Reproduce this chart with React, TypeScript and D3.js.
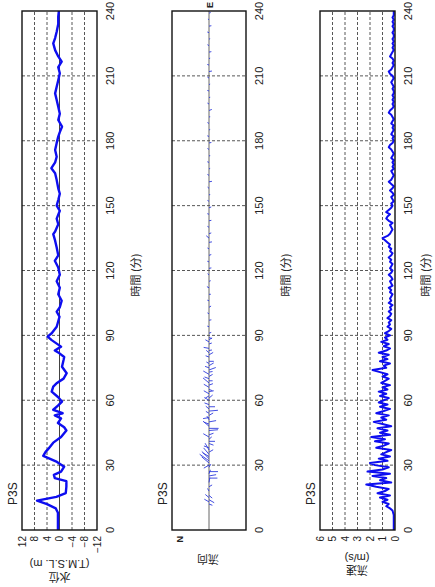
import { useEffect, useRef } from 'react';
import * as d3 from 'd3';

// time axis (minutes) shared by the three panels
const timeTicks = [0, 30, 60, 90, 120, 150, 180, 210, 240];
const levelTicks = [12, 8, 4, 0, -4, -8, -12];
const speedTicks = [6, 5, 4, 3, 2, 1, 0];

// 水位 (T.M.S.L. m)
const levelTime = [
  0, 8, 10, 12, 13.6, 15.3, 17, 20, 22.6, 24, 25.5, 27, 29.3, 31.5, 34.3, 36, 37.5, 40.4, 43, 46,
  47.5, 49.5, 51.6, 53, 54, 55.6, 57.5, 59.4, 61.5, 64, 66.3, 68, 70, 72.5, 75.5, 78.6, 80, 81.7, 83, 84.8,
  87.8, 89.4, 91, 94, 98.6, 101, 103, 106, 109, 112, 115, 118, 121.4, 124.5, 127, 130.6, 133.8, 136.8, 138, 141.4,
  144, 147.6, 150, 152.6, 155.5, 158, 161.8, 165, 167.3, 170, 172.6, 175.7, 179, 181.9, 184, 186.5, 189.6, 192.5, 195.7, 198.8,
  201.9, 205, 208, 211.2, 214, 216.6, 219, 221.9, 225, 227.5, 230.4, 234, 237.4, 240,
];
const levelValue = [
  0.5, 0.5, 1.2, 4, 7.2, 1, -2, -2.2, -2.2, 1.5, 1.8, -0.5, -1.5, 0.8, 5.2, 4.5, 3.6, 2, -0.5, -2.2,
  -1.5, 0.5, -0.5, 1.5, -1, 2, 0.5, -0.8, 0.5, 2.5, 2, 0.8, -1.3, -2.3, -0.8, -1.3, -1.5, 0, 1.5, -0.5,
  2.5, 3.8, 2.5, 0.9, 0, 0.9, -0.1, -0.7, 0.4, -0.1, 0.9, -0.1, 0.4, 1.5, 0.4, 0.9, 1.4, 2, 1.4, 0.4,
  0.9, -0.1, 0.9, 0.4, -0.1, 0.4, 0.9, 1.4, 2.6, 1.4, 0.9, 1.4, 0.9, 0.4, -0.1, -0.8, 0.4, -0.1, 0.4, 0.9,
  1.4, 0.9, 0.4, -0.1, 0.4, -0.7, 0.4, 1.4, 2, 1.4, 0.9, 0.4, 0.4, 0.2,
];

// 流速 (m/s), one reading per minute from 0 to 240
const speedValue = [
  0.1, 0.1, 0.1, 0.1, 0.1, 0.1, 0.1, 0.1, 0.15, 0.2,
  0.4, 0.7, 0.5, 1.0, 0.6, 1.2, 0.4, 1.4, 0.8, 0.5,
  1.5, 2.3, 0.3, 1.2, 0.7, 1.8, 0.4, 2.2, 1.0, 0.5,
  1.6, 2.0, 0.6, 1.3, 0.4, 1.1, 0.7, 0.3, 1.5, 0.9,
  0.5, 1.6, 0.8, 1.9, 0.4, 1.2, 0.6, 1.4, 0.3, 1.0,
  1.7, 0.7, 1.1, 0.5, 1.5, 0.9, 0.4, 1.2, 0.6, 1.3,
  0.9, 0.5, 1.2, 0.7, 1.3, 0.6, 1.0, 0.4, 1.1, 0.8,
  0.5, 1.0, 0.6, 1.2, 1.8, 0.7, 0.9, 0.4, 1.2, 0.6,
  1.0, 0.5, 1.3, 0.7, 0.4, 0.9, 0.5, 1.1, 0.6, 0.8,
  0.4, 0.8, 0.5, 0.3, 0.6, 0.4, 0.5, 0.3, 0.6, 0.4,
  0.3, 0.5, 0.3, 0.4, 0.2, 0.5, 0.3, 0.4, 0.3, 0.2,
  0.4, 0.3, 0.5, 0.2, 0.3, 0.4, 0.2, 0.3, 0.5, 0.3,
  0.2, 0.4, 0.3, 0.2, 0.4, 0.3, 0.5, 0.3, 0.2, 0.4,
  0.3, 0.5, 0.4, 0.6, 0.8, 1.0, 0.6, 0.4, 0.3, 0.2,
  0.3, 0.4, 0.2, 0.5, 0.7, 0.6, 0.4, 0.7, 0.5, 0.3,
  0.2, 0.3, 0.1, 0.2, 0.3, 0.1, 0.2, 0.4, 0.2, 0.1,
  0.3, 0.5, 0.3, 0.2, 0.1, 0.2, 0.3, 0.1, 0.2, 0.1,
  0.2, 0.1, 0.3, 0.2, 0.1, 0.2, 0.3, 0.5, 0.4, 0.2,
  0.1, 0.2, 0.1, 0.3, 0.2, 0.1, 0.2, 0.1, 0.3, 0.2,
  0.1, 0.2, 0.3, 0.5, 0.4, 0.2, 0.1, 0.2, 0.1, 0.2,
  0.1, 0.2, 0.1, 0.1, 0.2, 0.1, 0.2, 0.3, 0.2, 0.1,
  0.2, 0.4, 0.5, 0.3, 0.2, 0.1, 0.2, 0.1, 0.2, 0.4,
  0.3, 0.2, 0.1, 0.2, 0.1, 0.2, 0.1, 0.2, 0.1, 0.1,
  0.2, 0.1, 0.1, 0.2, 0.1, 0.2, 0.1, 0.2, 0.1, 0.1,
  0.1,
];

// 流向: stick vectors (speed m/s, direction degrees clockwise from north)
const stickTime = [
  12, 13, 14, 15, 16, 18, 20, 22, 24, 25, 26, 27, 29, 30, 31, 32, 33, 34, 35, 36,
  37, 38, 40, 41, 42, 43, 44, 46, 47, 48, 49, 50, 51, 52, 53, 54, 55, 56, 57, 58,
  60, 61, 62, 63, 64, 65, 66, 67, 68, 69, 70, 71, 72, 73, 74, 75, 76, 77, 78, 80,
  81, 82, 83, 84, 86, 87, 88, 89, 91, 94, 97, 100, 103, 106, 109, 112, 115, 118, 121, 124,
  127, 130, 133, 135, 137, 140, 143, 146, 149, 152, 155, 158, 161, 164, 167, 170, 173, 176, 179, 182,
  185, 188, 191, 194, 197, 200, 203, 206, 209, 212, 215, 218, 221, 224, 227, 230, 233, 236, 239,
];
const stickSpeed = [
  0.6, 0.9, 1.0, 0.8, 0.7, 0.5, 0.6, 0.8, 1.4, 1.2, 0.7, 1.5, 0.6, 1.0, 1.6, 1.9, 1.7, 1.2, 1.4, 0.8,
  1.3, 0.9, 0.8, 1.0, 0.6, 1.1, 0.8, 1.5, 1.6, 1.3, 0.9, 1.2, 0.7, 1.0, 0.8, 0.6, 1.5, 0.7, 1.0, 0.8,
  0.9, 0.8, 0.7, 1.0, 0.8, 0.6, 1.0, 0.7, 1.3, 0.6, 0.8, 0.7, 1.1, 0.6, 1.2, 0.7, 0.9, 0.5, 0.8, 0.6,
  0.8, 0.6, 0.5, 0.9, 0.5, 0.7, 0.6, 0.5, 0.4, 0.3, 0.4, 0.3, 0.4, 0.3, 0.3, 0.4, 0.3, 0.3, 0.4, 0.3,
  0.4, 0.3, 0.5, 0.6, 0.4, 0.3, 0.4, 0.3, 0.4, 0.3, 0.2, 0.3, 0.5, 0.3, 0.2, 0.3, 0.2, 0.3, 0.4, 0.3,
  0.2, 0.3, 0.2, 0.5, 0.3, 0.2, 0.3, 0.2, 0.3, 0.5, 0.3, 0.2, 0.4, 0.3, 0.2, 0.3, 0.4, 0.2, 0.3,
];
const stickDir = [
  200, 30, 210, 40, 220, 60, 150, 100, 180, 170, 110, 180, 120, 330, 40, 35, 45, 30, 50, 150,
  60, 20, 200, 180, 140, 30, 160, 175, 180, 40, 20, 170, 60, 350, 150, 30, 175, 40, 180, 20,
  30, 140, 330, 30, 170, 200, 30, 160, 40, 180, 20, 150, 30, 170, 160, 20, 150, 30, 180, 20,
  150, 40, 170, 10, 160, 30, 150, 200, 160, 20, 170, 30, 150, 20, 180, 30, 160, 40, 170, 20,
  160, 30, 170, 40, 160, 30, 170, 20, 160, 30, 170, 40, 170, 30, 160, 20, 170, 30, 170, 20,
  160, 30, 170, 160, 30, 170, 20, 160, 30, 170, 20, 160, 170, 30, 160, 20, 170, 30, 160,
];

const W = 587;
const H = 435;
const BLUE = '#0d0df0';
const LATIN = '"Liberation Sans", Arial, sans-serif';
const CJK = '"Noto Sans CJK JP", sans-serif';

export default function App() {
  const svgRef = useRef<SVGSVGElement | null>(null);

  useEffect(() => {
    const svg = svgRef.current;
    if (!svg) return;

    const root = d3.select(svg);
    root.selectAll('*').remove();
    root.append('rect').attr('width', H).attr('height', W).attr('fill', '#fff');

    // the whole figure is drawn landscape and turned a quarter turn anticlockwise
    const fig = root.append('g').attr('transform', `translate(0,${W}) rotate(-90)`);

    const x = d3.scaleLinear().domain([0, 240]).range([57, 576]);

    const panel = (top: number, bottom: number, title: string, titleY: number) => {
      const g = fig.append('g');
      g.selectAll('line.vgrid')
        .data(timeTicks.slice(1, -1))
        .join('line')
        .attr('x1', (d) => x(d))
        .attr('x2', (d) => x(d))
        .attr('y1', top)
        .attr('y2', bottom)
        .attr('stroke', '#444')
        .attr('stroke-width', 0.9)
        .attr('stroke-dasharray', '3,2');

      g.selectAll('text.tick')
        .data(timeTicks)
        .join('text')
        .attr('x', (d) => x(d))
        .attr('y', bottom + 17)
        .attr('text-anchor', 'middle')
        .attr('font-family', LATIN)
        .attr('font-size', 11)
        .attr('fill', '#222')
        .text((d) => d);

      g.append('text')
        .attr('x', 312)
        .attr('y', titleY)
        .attr('text-anchor', 'middle')
        .attr('font-family', CJK)
        .attr('font-size', 11)
        .attr('fill', '#222')
        .text('時間 (分)');

      g.append('text')
        .attr('x', 82)
        .attr('y', top - 5)
        .attr('font-family', LATIN)
        .attr('font-size', 12)
        .attr('fill', '#222')
        .text(title);
      return g;
    };

    const box = (g: d3.Selection<SVGGElement, unknown, null, undefined>, top: number, bottom: number) => {
      g.append('rect')
        .attr('x', x(0))
        .attr('y', top)
        .attr('width', x(240) - x(0))
        .attr('height', bottom - top)
        .attr('fill', 'none')
        .attr('stroke', '#111')
        .attr('stroke-width', 1.4);
    };

    const yTitle = (g: d3.Selection<SVGGElement, unknown, null, undefined>, lines: [string, number, string][], cy: number) => {
      lines.forEach(([txt, px, fam]) => {
        g.append('text')
          .attr('transform', `translate(${px},${cy}) rotate(-90)`)
          .attr('text-anchor', 'middle')
          .attr('font-family', fam)
          .attr('font-size', 11)
          .attr('fill', '#222')
          .text(txt);
      });
    };

    // ---- panel 1: water level
    const y1 = d3.scaleLinear().domain([-12, 12]).range([97, 22]);
    const g1 = panel(22, 97, 'P3S', 140);
    g1.selectAll('line.hgrid')
      .data(levelTicks.filter((d) => Math.abs(d) !== 12))
      .join('line')
      .attr('x1', x(0))
      .attr('x2', x(240))
      .attr('y1', (d) => y1(d))
      .attr('y2', (d) => y1(d))
      .attr('stroke', (d) => (d === 0 ? '#111' : '#444'))
      .attr('stroke-width', (d) => (d === 0 ? 0.8 : 0.9))
      .attr('stroke-dasharray', (d) => (d === 0 ? null : '3,2'));
    g1.append('path')
      .datum(levelTime.map((t, i) => [t, levelValue[i]] as [number, number]))
      .attr('fill', 'none')
      .attr('stroke', BLUE)
      .attr('stroke-width', 2.4)
      .attr('stroke-linejoin', 'round')
      .attr('d', d3.line().x((d) => x(d[0])).y((d) => y1(d[1])));
    box(g1, 22, 97);
    g1.selectAll('text.ylab')
      .data(levelTicks)
      .join('text')
      .attr('x', 51)
      .attr('y', (d) => y1(d))
      .attr('dy', '0.35em')
      .attr('text-anchor', 'end')
      .attr('font-family', LATIN)
      .attr('font-size', 10)
      .attr('fill', '#222')
      .text((d) => (d < 0 ? `\u2212${-d}` : `${d}`));
    yTitle(g1, [['水位', 14, CJK], ['(T.M.S.L. m)', 27, LATIN]], 59.5);

    // ---- panel 2: direction sticks
    const mid = 209;
    const len = d3.scaleLinear().domain([0, 1]).range([0, 6]);
    const g2 = panel(172, 246, 'P3S', 290);
    g2.append('line')
      .attr('x1', x(0))
      .attr('x2', x(240))
      .attr('y1', mid)
      .attr('y2', mid)
      .attr('stroke', '#555')
      .attr('stroke-width', 0.9);
    g2.selectAll('line.stick')
      .data(stickTime)
      .join('line')
      .attr('x1', (t) => x(t))
      .attr('y1', mid)
      .attr('x2', (t, i) => x(t) + len(stickSpeed[i]) * Math.sin((stickDir[i] * Math.PI) / 180))
      .attr('y2', (t, i) => mid - len(stickSpeed[i]) * Math.cos((stickDir[i] * Math.PI) / 180))
      .attr('stroke', '#2f3bdc')
      .attr('stroke-width', 0.9);
    box(g2, 172, 246);
    g2.append('text')
      .attr('x', 51)
      .attr('y', 183)
      .attr('text-anchor', 'end')
      .attr('font-family', LATIN)
      .attr('font-size', 9)
      .attr('font-weight', 'bold')
      .attr('fill', '#222')
      .text('N');
    g2.append('text')
      .attr('x', 582)
      .attr('y', mid + 3.5)
      .attr('text-anchor', 'middle')
      .attr('font-family', LATIN)
      .attr('font-size', 9)
      .attr('font-weight', 'bold')
      .attr('fill', '#222')
      .text('E');
    yTitle(g2, [['流向', 32, CJK]], 208);

    // ---- panel 3: speed
    const y3 = d3.scaleLinear().domain([0, 6]).range([395, 320]);
    const g3 = panel(320, 395, 'P3S', 430);
    g3.selectAll('line.hgrid')
      .data(speedTicks.filter((d) => d > 0 && d < 6))
      .join('line')
      .attr('x1', x(0))
      .attr('x2', x(240))
      .attr('y1', (d) => y3(d))
      .attr('y2', (d) => y3(d))
      .attr('stroke', '#444')
      .attr('stroke-width', 0.9)
      .attr('stroke-dasharray', '3,2');
    g3.append('path')
      .datum(speedValue)
      .attr('fill', 'none')
      .attr('stroke', BLUE)
      .attr('stroke-width', 2)
      .attr('stroke-linejoin', 'round')
      .attr('d', d3.line<number>().x((_, i) => x(i)).y((d) => y3(d)));
    box(g3, 320, 395);
    g3.selectAll('text.ylab')
      .data(speedTicks)
      .join('text')
      .attr('x', 51)
      .attr('y', (d) => y3(d))
      .attr('dy', '0.35em')
      .attr('text-anchor', 'end')
      .attr('font-family', LATIN)
      .attr('font-size', 10)
      .attr('fill', '#222')
      .text((d) => d);
    yTitle(g3, [['流速', 21, CJK], ['(m/s)', 33, LATIN]], 357);
  }, []);

  return (
    <svg
      ref={svgRef}
      width={H}
      height={W}
      style={{ position: 'absolute', left: 0, top: 0, display: 'block' }}
    />
  );
}
